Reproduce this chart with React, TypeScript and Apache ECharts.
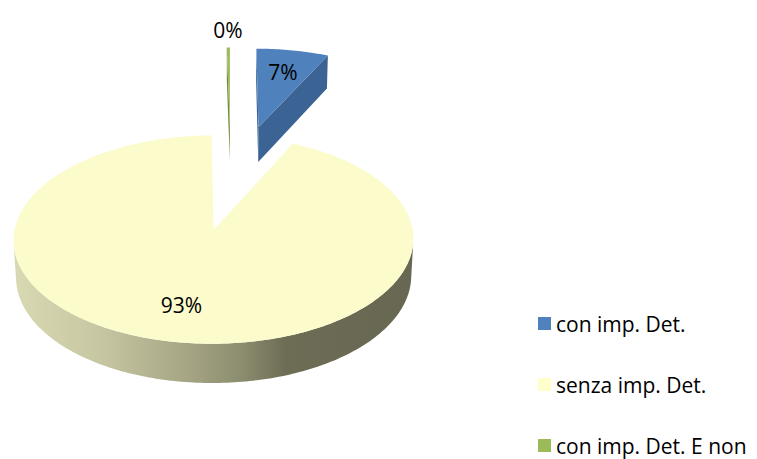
import React, { useEffect, useRef } from 'react';
import * as echarts from 'echarts';

// ---- data ----
const categories = ['con imp. Det.', 'senza imp. Det.', 'con imp. Det. E non'];
const values = [7, 93, 0.3];

// ---- styles ----
const legendColors = ['#4F81BD', '#FFFFCC', '#9BBB59'];
const topColors = ['#4F81BD', '#FBFBCB', '#9BBB59'];
const radialColors = ['#3B6393', '#C8C8A0', '#6F8B38'];
const wallStops = [
  [[0, '#3B6393'], [1, '#2E4E75']],
  [[0, '#D9D9B3'], [0.22, '#C6C6A2'], [0.45, '#A3A383'], [0.58, '#8A8A6D'], [0.68, '#6D6D56'], [1, '#676752']],
  [[0, '#76923C'], [1, '#5A722C']],
];
const explodeBy = [0.7, 0.42, 0.7];

// camera / projection settings
const CAM = { F: 1860, D: 9.7, phi: Math.PI / 6, sx: 231, sy: 189 };
const THICK = 0.22;
const DEG = Math.PI / 180;
const SIN_P = Math.sin(CAM.phi);
const COS_P = Math.cos(CAM.phi);
const CAM_POS = [0, -CAM.D * COS_P, CAM.D * SIN_P];

function project(x: number, y: number, z: number): number[] {
  const depth = CAM.D + y * COS_P - z * SIN_P;
  const vert = y * SIN_P + z * COS_P;
  return [CAM.sx + (CAM.F * x) / depth, CAM.sy - (CAM.F * vert) / depth];
}

const total = values.reduce((a, b) => a + b, 0);
let acc = 0;
const slices = values.map((v, i) => {
  const a0 = (acc / total) * 360;
  acc += v;
  const a1 = (acc / total) * 360;
  const mid = ((a0 + a1) / 2) * DEG;
  const e = explodeBy[i];
  return { a0, a1, pct: v / total, ox: e * Math.sin(mid), oy: e * Math.cos(mid), mid };
});
// paint order: farther slices first
const order = slices.map((s, i) => i).sort((a, b) => slices[b].oy - slices[a].oy);
const zBase: number[] = [];
order.forEach((idx, pos) => (zBase[idx] = pos * 100 + 10));

function visible(n: number[], p: number[]) {
  return n[0] * (CAM_POS[0] - p[0]) + n[1] * (CAM_POS[1] - p[1]) + n[2] * (CAM_POS[2] - p[2]) > 0;
}

function renderItem(params: any, api: any) {
  const i = params.dataIndex;
  const s = slices[i];
  const { ox, oy } = s;
  const steps = Math.max(2, Math.ceil(s.a1 - s.a0));
  const angs: number[] = [];
  for (let k = 0; k <= steps; k++) angs.push((s.a0 + ((s.a1 - s.a0) * k) / steps) * DEG);
  const top = angs.map((a) => project(ox + Math.sin(a), oy + Math.cos(a), 0));
  const bot = angs.map((a) => project(ox + Math.sin(a), oy + Math.cos(a), -THICK));
  const apT = project(ox, oy, 0);
  const apB = project(ox, oy, -THICK);
  const z0 = zBase[i];
  const children: any[] = [];

  // outer wall (visible runs)
  let run: number[] = [];
  const flush = () => {
    if (run.length) {
      const k0 = run[0];
      const k1 = run[run.length - 1] + 1;
      const pts: number[][] = [];
      for (let k = k0; k <= k1; k++) pts.push(top[k]);
      for (let k = k1; k >= k0; k--) pts.push(bot[k]);
      children.push({
        type: 'polygon',
        shape: { points: pts },
        style: {
          fill: {
            type: 'linear', x: 0, y: 0, x2: 1, y2: 0,
            colorStops: wallStops[i].map((st) => ({ offset: st[0], color: st[1] })),
          },
        },
        z2: z0,
      });
    }
    run = [];
  };
  for (let k = 0; k < steps; k++) {
    const am = (angs[k] + angs[k + 1]) / 2;
    const n = [Math.sin(am), Math.cos(am), 0];
    const p = [ox + Math.sin(am), oy + Math.cos(am), -THICK / 2];
    if (visible(n, p)) run.push(k);
    else flush();
  }
  flush();

  // radial faces
  if (s.a1 - s.a0 < 359.9) {
    const faces = [
      { a: s.a0 * DEG, n: [-Math.cos(s.a0 * DEG), Math.sin(s.a0 * DEG), 0], t: top[0], b: bot[0] },
      { a: s.a1 * DEG, n: [Math.cos(s.a1 * DEG), -Math.sin(s.a1 * DEG), 0], t: top[steps], b: bot[steps] },
    ];
    faces.forEach((f) => {
      const p = [ox + 0.5 * Math.sin(f.a), oy + 0.5 * Math.cos(f.a), -THICK / 2];
      if (visible(f.n, p)) {
        children.push({
          type: 'polygon',
          shape: { points: [apT, f.t, f.b, apB] },
          style: { fill: radialColors[i] },
          z2: z0 + 1,
        });
      }
    });
  }

  // top face
  children.push({
    type: 'polygon',
    shape: { points: [apT, ...top] },
    style: { fill: topColors[i] },
    z2: z0 + 2,
  });

  // label
  const r = s.pct >= 0.03 ? 0.7 : 1.25;
  const lp = project(ox + r * Math.sin(s.mid), oy + r * Math.cos(s.mid), 0);
  children.push({
    type: 'text',
    x: lp[0],
    y: lp[1],
    style: {
      text: Math.round(s.pct * 100) + '%',
      fill: '#000000',
      fontSize: 21,
      fontFamily: 'Open Sans',
      align: 'center',
      verticalAlign: 'middle',
    },
    z2: 1000,
  });

  return { type: 'group', children };
}

const option: any = {
  animation: false,
  backgroundColor: '#ffffff',
  legend: categories.map((c, i) => ({
    type: 'plain',
    orient: 'vertical',
    left: 538,
    top: 313 + i * 61,
    padding: 0,
    itemWidth: 13,
    itemHeight: 13,
    icon: 'rect',
    selectedMode: false,
    data: [c],
    textStyle: { fontFamily: 'Open Sans', fontSize: 21, lineHeight: 20, color: '#000000' },
  })),
  series: [
    {
      type: 'custom',
      name: 'pie3d',
      coordinateSystem: 'none',
      renderItem,
      data: values.map((v, i) => ({ name: categories[i], value: v })),
      silent: true,
    },
    {
      type: 'pie',
      name: 'legend',
      radius: [0, 0],
      center: [-100, -100],
      label: { show: false },
      labelLine: { show: false },
      silent: true,
      data: values.map((v, i) => ({ name: categories[i], value: v, itemStyle: { color: legendColors[i] } })),
    },
  ],
};

export default function App() {
  const ref = useRef<HTMLDivElement>(null);
  useEffect(() => {
    document.body.style.margin = '0';
    const chart = echarts.init(ref.current as HTMLDivElement, null, { renderer: 'svg' });
    chart.setOption(option);
    return () => chart.dispose();
  }, []);
  return <div ref={ref} style={{ width: 757, height: 459 }} />;
}
